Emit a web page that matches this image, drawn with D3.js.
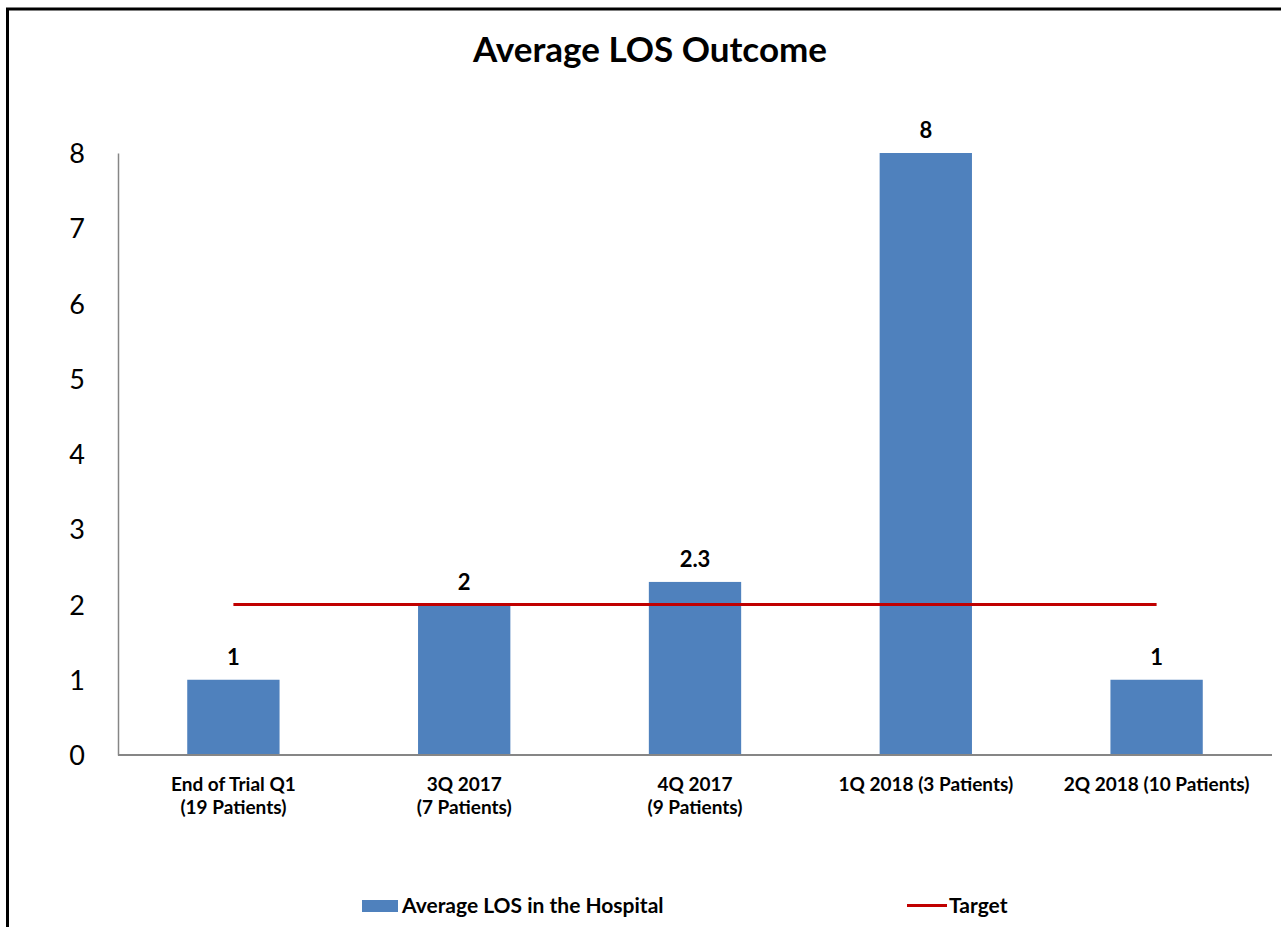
<!DOCTYPE html>
<html>
<head>
<meta charset="utf-8">
<script src="https://cdn.jsdelivr.net/npm/d3@7"></script>
<style>
	body { margin: 0; background: #fff; }
	svg text { font-family: Lato, "Noto Sans", sans-serif; fill: #000; }
</style>
</head>
<body>
<div id="chart"></div>
<script>
var categories = [
	["End of Trial Q1", "(19 Patients)"],
	["3Q 2017", "(7 Patients)"],
	["4Q 2017", "(9 Patients)"],
	["1Q 2018 (3 Patients)"],
	["2Q 2018 (10 Patients)"]
];
var losValues = [1, 2, 2.3, 8, 1];
var valueLabels = ["1", "2", "2.3", "8", "1"];
var targetValues = [2, 2, 2, 2, 2];
var yTicks = [0, 1, 2, 3, 4, 5, 6, 7, 8];

var W = 1281, H = 927;
var margin = { top: 153, right: 9, bottom: 172, left: 118 },
	width = W - margin.left - margin.right,
	height = H - margin.top - margin.bottom;

var root = d3.select("#chart")
	.append("svg")
	.attr("width", W)
	.attr("height", H);

// chart frame (left and top edges visible)
root.append("rect")
	.attr("x", 7.5)
	.attr("y", 9)
	.attr("width", W + 20)
	.attr("height", H + 20)
	.attr("fill", "none")
	.attr("stroke", "#000")
	.attr("stroke-width", 3);

root.append("text")
	.attr("x", 650)
	.attr("y", 62)
	.attr("text-anchor", "middle")
	.style("font-size", "35px")
	.style("font-weight", "bold")
	.text("Average LOS Outcome");

var svg = root.append("g")
	.attr("transform", "translate(" + margin.left + "," + margin.top + ")");

var keys = categories.map(function (d, i) { return i; });

var x = d3.scaleBand()
	.domain(keys)
	.range([0, width])
	.paddingInner(0.6)
	.paddingOuter(0.3);

var xc = d3.scalePoint()
	.domain(keys)
	.range([0, width])
	.padding(0.5);

var y = d3.scaleLinear()
	.domain([0, 8])
	.range([height, 0]);

// bars
svg.selectAll("rect.bar")
	.data(losValues)
	.enter()
	.append("rect")
	.attr("class", "bar")
	.attr("x", function (d, i) { return x(i); })
	.attr("width", x.bandwidth())
	.attr("y", function (d) { return y(d); })
	.attr("height", function (d) { return height - y(d); })
	.attr("fill", "#4F81BD");

// y axis
var yAxis = svg.append("g")
	.call(d3.axisLeft(y).tickValues(yTicks).tickSize(0).tickPadding(33).tickFormat(d3.format("d")));
yAxis.select(".domain").attr("stroke", "#868686").attr("stroke-width", 1.5);
yAxis.selectAll("text")
	.style("font-size", "27px")
	.style("font-family", "Lato, 'Noto Sans', sans-serif")
	.attr("dy", "0.36em");

// x axis line
svg.append("line")
	.attr("x1", 0)
	.attr("x2", width)
	.attr("y1", height)
	.attr("y2", height)
	.attr("stroke", "#868686")
	.attr("stroke-width", 2);

// category labels
var catLabels = svg.selectAll("text.cat")
	.data(categories)
	.enter()
	.append("text")
	.attr("class", "cat")
	.attr("text-anchor", "middle")
	.attr("x", function (d, i) { return xc(i); })
	.attr("y", height + 36)
	.style("font-size", "19px")
	.style("font-weight", "bold");
catLabels.selectAll("tspan")
	.data(function (d) { return d; })
	.enter()
	.append("tspan")
	.attr("x", function () { return d3.select(this.parentNode).attr("x"); })
	.attr("dy", function (d, j) { return j === 0 ? 0 : 23; })
	.text(function (d) { return d; });

// value labels
svg.selectAll("text.val")
	.data(losValues)
	.enter()
	.append("text")
	.attr("class", "val")
	.attr("text-anchor", "middle")
	.attr("x", function (d, i) { return xc(i); })
	.attr("y", function (d) { return y(d) - 15; })
	.style("font-size", "22px")
	.style("font-weight", "bold")
	.text(function (d, i) { return valueLabels[i]; });

// target line
svg.append("path")
	.datum(targetValues)
	.attr("fill", "none")
	.attr("stroke", "#C00000")
	.attr("stroke-width", 3)
	.attr("d", d3.line()
		.x(function (d, i) { return xc(i); })
		.y(function (d) { return y(d); }));

// legend
root.append("rect")
	.attr("x", 362)
	.attr("y", 900)
	.attr("width", 36)
	.attr("height", 12)
	.attr("fill", "#4F81BD");
root.append("text")
	.attr("x", 402)
	.attr("y", 913)
	.style("font-size", "21px")
	.style("font-weight", "bold")
	.text("Average LOS in the Hospital");

root.append("line")
	.attr("x1", 907)
	.attr("x2", 947)
	.attr("y1", 905.5)
	.attr("y2", 905.5)
	.attr("stroke", "#C00000")
	.attr("stroke-width", 3);
root.append("text")
	.attr("x", 949)
	.attr("y", 913)
	.style("font-size", "21px")
	.style("font-weight", "bold")
	.text("Target");
</script>
</body>
</html>
